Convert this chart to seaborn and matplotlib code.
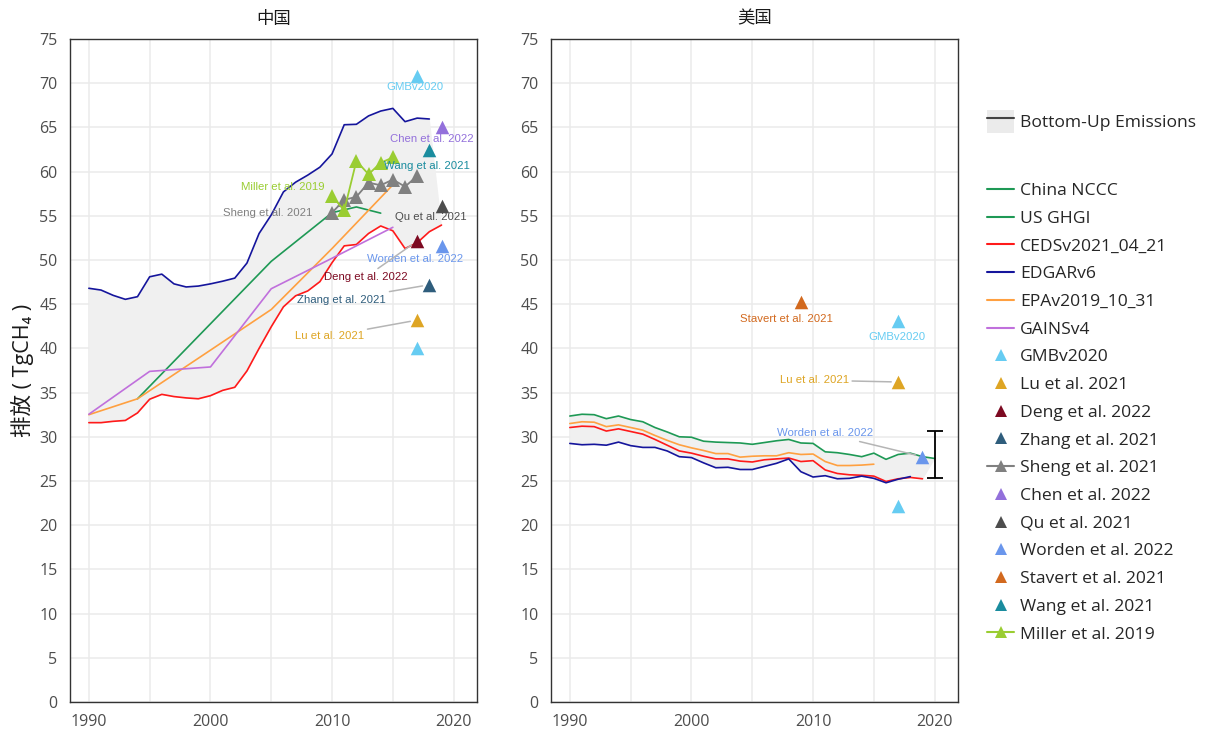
import numpy as np
import pandas as pd
import seaborn as sns
import matplotlib.pyplot as plt
from matplotlib.lines import Line2D
from matplotlib.patches import Patch

# ---- China inventories ----
cn_edgar_years = list(range(1990, 2019))
cn_edgar = [46.8, 46.6, 46.0, 45.55, 45.85, 48.1, 48.4, 47.3, 46.95, 47.05,
            47.3, 47.6, 47.95, 49.65, 53.0, 55.1, 57.7, 58.8, 59.6, 60.5,
            62.0, 65.3, 65.35, 66.3, 66.85, 67.15, 65.65, 66.05, 65.95]
cn_ceds_years = list(range(1990, 2020))
cn_ceds = [31.6, 31.6, 31.75, 31.85, 32.7, 34.25, 34.8, 34.55, 34.4, 34.3,
           34.65, 35.25, 35.6, 37.45, 40.0, 42.45, 44.7, 45.95, 46.5, 47.55,
           49.7, 51.6, 51.75, 53.0, 53.85, 53.3, 51.3, 51.95, 53.2, 53.95]
cn_nccc_years = [1994, 2005, 2010, 2012, 2014]
cn_nccc = [34.3, 49.85, 55.35, 56.0, 55.3]
cn_epa_years = [1990, 1994, 2000, 2005, 2010, 2015]
cn_epa = [32.5, 34.3, 39.8, 44.4, 51.3, 58.5]
cn_gains_years = [1990, 1995, 2000, 2005, 2010, 2015]
cn_gains = [32.55, 37.4, 37.9, 46.75, 50.2, 53.7]

# ---- China top-down estimates ----
cn_points = {
    "GMBv2020": ([2017, 2017], [70.8, 40.1]),
    "Lu et al. 2021": ([2017], [43.2]),
    "Deng et al. 2022": ([2017], [52.15]),
    "Zhang et al. 2021": ([2018], [47.2]),
    "Chen et al. 2022": ([2019], [65.1]),
    "Qu et al. 2021": ([2019], [56.15]),
    "Worden et al. 2022": ([2019], [51.6]),
    "Wang et al. 2021": ([2018], [62.4]),
}
sheng_years = list(range(2010, 2018))
sheng = [55.35, 56.8, 57.15, 58.75, 58.45, 59.1, 58.3, 59.5]
miller_years = list(range(2010, 2016))
miller = [57.25, 55.6, 61.2, 59.7, 61.0, 61.6]

# ---- US inventories ----
us_ghgi_years = list(range(1990, 2021))
us_ghgi = [32.35, 32.55, 32.5, 32.05, 32.35, 31.95, 31.7, 31.05, 30.55, 30.0,
           29.95, 29.5, 29.4, 29.35, 29.3, 29.15, 29.35, 29.55, 29.7, 29.3,
           29.25, 28.3, 28.2, 28.0, 27.75, 28.15, 27.45, 28.0, 28.15, 27.75, 27.55]
us_epa_years = list(range(1990, 2016))
us_epa = [31.5, 31.7, 31.65, 31.15, 31.35, 31.05, 30.75, 30.15, 29.6, 29.1,
          28.75, 28.45, 28.1, 28.1, 27.7, 27.8, 27.85, 27.85, 28.2, 28.0,
          28.05, 27.2, 26.75, 26.75, 26.8, 26.9]
us_ceds_years = list(range(1990, 2020))
us_ceds = [31.05, 31.2, 31.15, 30.65, 30.9, 30.6, 30.3, 29.7, 29.05, 28.4,
           28.15, 27.8, 27.5, 27.5, 27.25, 27.15, 27.4, 27.5, 27.6, 27.2,
           27.3, 26.25, 25.85, 25.7, 25.65, 25.55, 24.95, 25.25, 25.4, 25.25]
us_edgar_years = list(range(1990, 2019))
us_edgar = [29.25, 29.1, 29.15, 29.05, 29.4, 29.0, 28.8, 28.8, 28.4, 27.75,
            27.65, 27.05, 26.5, 26.55, 26.3, 26.3, 26.65, 27.0, 27.5, 26.05,
            25.45, 25.6, 25.25, 25.3, 25.55, 25.3, 24.8, 25.2, 25.5]

us_points = {
    "Stavert et al. 2021": ([2009], [45.2]),
    "GMBv2020": ([2017, 2017], [43.05, 22.2]),
    "Lu et al. 2021": ([2017], [36.2]),
    "Worden et al. 2022": ([2019], [27.75]),
}
us_err_year = 2020
us_err_low = 25.35
us_err_high = 30.6

colors = {
    "China NCCC": "#1e9955", "US GHGI": "#1e9955", "CEDSv2021_04_21": "#ff1a1a",
    "EDGARv6": "#15159c", "EPAv2019_10_31": "#ffa040", "GAINSv4": "#c070dc",
    "GMBv2020": "#66ccf2", "Lu et al. 2021": "#dea524", "Deng et al. 2022": "#7d0a22",
    "Zhang et al. 2021": "#2f5d7c", "Sheng et al. 2021": "#808080",
    "Chen et al. 2022": "#9370db", "Qu et al. 2021": "#4d4d4d",
    "Worden et al. 2022": "#6a96ec", "Stavert et al. 2021": "#d2691e",
    "Wang et al. 2021": "#1a8c9e", "Miller et al. 2019": "#9acd32",
}

def inv_frame(series):
    rows = []
    for name, (yrs, vals) in series.items():
        for y, v in zip(yrs, vals):
            rows.append({"source": name, "year": y, "value": v})
    return pd.DataFrame(rows)

cn_inv = inv_frame({
    "China NCCC": (cn_nccc_years, cn_nccc),
    "CEDSv2021_04_21": (cn_ceds_years, cn_ceds),
    "EDGARv6": (cn_edgar_years, cn_edgar),
    "EPAv2019_10_31": (cn_epa_years, cn_epa),
    "GAINSv4": (cn_gains_years, cn_gains),
})
us_inv = inv_frame({
    "US GHGI": (us_ghgi_years, us_ghgi),
    "CEDSv2021_04_21": (us_ceds_years, us_ceds),
    "EDGARv6": (us_edgar_years, us_edgar),
    "EPAv2019_10_31": (us_epa_years, us_epa),
})

sns.set_style("white")
plt.rcParams["font.family"] = ["Open Sans", "Noto Sans CJK SC", "DejaVu Sans"]
label_font = ["Liberation Sans Narrow", "Liberation Sans", "DejaVu Sans"]

fig = plt.figure(figsize=(12.07, 7.33), dpi=100)
ax1 = fig.add_axes([0.058, 0.0423, 0.337, 0.9045])
ax2 = fig.add_axes([0.4565, 0.0423, 0.337, 0.9045])


def draw_panel(ax, inv, points, title):
    rng = inv.groupby("year")["value"].agg(["min", "max"]).reset_index()
    ax.fill_between(rng["year"], rng["min"], rng["max"], color="#f0f0f0", lw=0, zorder=1)
    sns.lineplot(data=inv, x="year", y="value", hue="source", palette=colors,
                 lw=1.2, legend=False, ax=ax, zorder=3)
    for name, (yrs, vals) in points.items():
        sns.scatterplot(x=yrs, y=vals, color=colors[name], marker="^", s=95,
                        linewidth=0, ax=ax, zorder=5)
    ax.set_xlim(1988.45, 2021.9)
    ax.set_ylim(0, 75)
    ax.set_xticks([1990, 2000, 2010, 2020])
    ax.set_xticks(np.arange(1990, 2021, 5), minor=True)
    ax.set_yticks(np.arange(0, 76, 5))
    ax.grid(True, which="both", color="#ebebeb", lw=1.1, zorder=0)
    ax.set_axisbelow(True)
    for s in ax.spines.values():
        s.set_color("#333333")
        s.set_linewidth(1.0)
    ax.tick_params(axis="both", which="major", length=4, color="#333333",
                   labelsize=11.5, labelcolor="#4d4d4d", pad=5)
    ax.tick_params(axis="x", which="minor", length=0)
    ax.set_xlabel("")
    ax.set_ylabel("")
    ax.set_title(title, fontsize=12.5, color="#1a1a1a", pad=11)


def label(ax, text, xy, xytext, ha="center", line=False):
    kw = dict(fontsize=8.2, color=colors[text], ha=ha, va="center",
              family=label_font, zorder=6)
    if line:
        ax.annotate(text, xy=xy, xytext=xytext,
                    arrowprops=dict(arrowstyle="-", color="#b5b5b5", lw=1.1,
                                    shrinkA=0, shrinkB=5), **kw)
    else:
        ax.text(xytext[0], xytext[1], text, **kw)


draw_panel(ax1, cn_inv, cn_points, "中国")
sns.lineplot(x=sheng_years, y=sheng, color=colors["Sheng et al. 2021"], lw=1.3,
             marker="^", markersize=10, markeredgewidth=0, ax=ax1, zorder=4)
sns.lineplot(x=miller_years, y=miller, color=colors["Miller et al. 2019"], lw=1.3,
             marker="^", markersize=10, markeredgewidth=0, ax=ax1, zorder=4)

label(ax1, "GMBv2020", None, (2016.8, 69.6))
label(ax1, "Chen et al. 2022", None, (2018.2, 63.7))
label(ax1, "Wang et al. 2021", None, (2017.8, 60.6))
label(ax1, "Miller et al. 2019", None, (2009.4, 58.3), ha="right")
label(ax1, "Sheng et al. 2021", None, (2008.4, 55.3), ha="right")
label(ax1, "Qu et al. 2021", None, (2018.1, 54.9))
label(ax1, "Worden et al. 2022", None, (2016.8, 50.1))
label(ax1, "Deng et al. 2022", (2017, 52.15), (2012.8, 48.1), line=True)
label(ax1, "Zhang et al. 2021", (2018, 47.2), (2010.8, 45.5), line=True)
label(ax1, "Lu et al. 2021", (2017, 43.2), (2009.8, 41.4), line=True)

draw_panel(ax2, us_inv, us_points, "美国")
ax2.errorbar([us_err_year], [(us_err_low + us_err_high) / 2],
             yerr=[[(us_err_high - us_err_low) / 2]], color="black", lw=1.3,
             capsize=6, capthick=1.3, zorder=6)
label(ax2, "Stavert et al. 2021", None, (2007.8, 43.3))
label(ax2, "GMBv2020", None, (2016.9, 41.3))
label(ax2, "Lu et al. 2021", (2017, 36.2), (2010.1, 36.4), line=True)
label(ax2, "Worden et al. 2022", (2019, 27.75), (2011.0, 30.4), line=True)

ax1.set_ylabel("排放 ( TgCH₄ )", fontsize=15.5, color="#1a1a1a", labelpad=4)

# ---- legends ----
fig.legend(handles=[(Patch(facecolor="#ebebeb", edgecolor="none"),
                     Line2D([], [], color="#444444", lw=1.5))],
           labels=["Bottom-Up Emissions"], loc="upper left",
           bbox_to_anchor=(0.805, 0.872), frameon=False, fontsize=12.6,
           handlelength=1.5, handleheight=1.7, handletextpad=0.35)

line_names = ["China NCCC", "US GHGI", "CEDSv2021_04_21", "EDGARv6",
              "EPAv2019_10_31", "GAINSv4"]
point_names = ["GMBv2020", "Lu et al. 2021", "Deng et al. 2022", "Zhang et al. 2021",
               "Sheng et al. 2021", "Chen et al. 2022", "Qu et al. 2021",
               "Worden et al. 2022", "Stavert et al. 2021", "Wang et al. 2021",
               "Miller et al. 2019"]
handles = [Line2D([], [], color=colors[n], lw=1.5) for n in line_names]
for n in point_names:
    ls = "-" if n in ("Sheng et al. 2021", "Miller et al. 2019") else "none"
    handles.append(Line2D([], [], color=colors[n], lw=1.5, ls=ls, marker="^",
                          markersize=9, markeredgewidth=0))
fig.legend(handles=handles, labels=line_names + point_names, loc="upper left",
           bbox_to_anchor=(0.805, 0.772), frameon=False, fontsize=12.6,
           handlelength=1.5, handletextpad=0.35, labelspacing=0.655)

fig.savefig("out.png", dpi=100)
